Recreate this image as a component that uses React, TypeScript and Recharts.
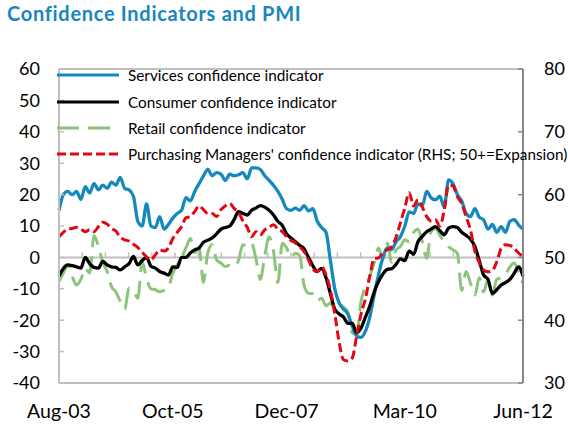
import { LineChart, Line, XAxis, YAxis, ReferenceLine } from 'recharts';

const months = [
  'Aug-03', 'Sep-03', 'Oct-03', 'Nov-03', 'Dec-03',
  'Jan-04', 'Feb-04', 'Mar-04', 'Apr-04', 'May-04', 'Jun-04', 'Jul-04', 'Aug-04', 'Sep-04', 'Oct-04', 'Nov-04', 'Dec-04',
  'Jan-05', 'Feb-05', 'Mar-05', 'Apr-05', 'May-05', 'Jun-05', 'Jul-05', 'Aug-05', 'Sep-05', 'Oct-05', 'Nov-05', 'Dec-05',
  'Jan-06', 'Feb-06', 'Mar-06', 'Apr-06', 'May-06', 'Jun-06', 'Jul-06', 'Aug-06', 'Sep-06', 'Oct-06', 'Nov-06', 'Dec-06',
  'Jan-07', 'Feb-07', 'Mar-07', 'Apr-07', 'May-07', 'Jun-07', 'Jul-07', 'Aug-07', 'Sep-07', 'Oct-07', 'Nov-07', 'Dec-07',
  'Jan-08', 'Feb-08', 'Mar-08', 'Apr-08', 'May-08', 'Jun-08', 'Jul-08', 'Aug-08', 'Sep-08', 'Oct-08', 'Nov-08', 'Dec-08',
  'Jan-09', 'Feb-09', 'Mar-09', 'Apr-09', 'May-09', 'Jun-09', 'Jul-09', 'Aug-09', 'Sep-09', 'Oct-09', 'Nov-09', 'Dec-09',
  'Jan-10', 'Feb-10', 'Mar-10', 'Apr-10', 'May-10', 'Jun-10', 'Jul-10', 'Aug-10', 'Sep-10', 'Oct-10', 'Nov-10', 'Dec-10',
  'Jan-11', 'Feb-11', 'Mar-11', 'Apr-11', 'May-11', 'Jun-11', 'Jul-11', 'Aug-11', 'Sep-11', 'Oct-11', 'Nov-11', 'Dec-11',
  'Jan-12', 'Feb-12', 'Mar-12', 'Apr-12', 'May-12', 'Jun-12',
];

const services = [
  15, 20, 21, 20, 21, 18.5, 22.5, 20.5, 23.5, 21.5,
  23, 22, 24, 23, 25.5, 22, 21.5, 19.5, 11.5, 10,
  17, 10, 9.5, 13, 9, 10.5, 12.5, 14, 15, 19,
  18, 21, 23.5, 26, 28, 26, 27, 26.5, 24.5, 26.5,
  26, 26.3, 27, 25, 28.5, 28.5, 28, 26, 24.5, 23,
  21, 18.5, 15.5, 15, 15.7, 15, 16.5, 14.8, 15.5, 11.5,
  9.5, 8, -1, -10, -14.5, -16.5, -18, -22, -25, -25.5,
  -23.5, -19, -12, -5.5, 0, 3, 2.5, 5, 6.6, 10,
  14.5, 14, 17, 16.5, 21, 19, 18.3, 19.5, 16, 24.7,
  23.5, 20, 18, 14, 13, 15.5, 12.8, 12, 9, 10.5,
  8, 9.8, 8, 11.5, 12, 10.3, 9,
];

const consumer = [
  -6, -3.5, -2.4, -2.6, -3, -3.4, 0, -2, -3.2, -3.4,
  -1.3, -2.4, -3, -3.2, -4, -3, -2, 0.3, -2.4, -1,
  0, -2.8, -3.4, -4.5, -5, -5.6, -3, -3.2, 0, 0,
  1.4, 2.4, 3, 4.8, 5.5, 6.2, 7.5, 9, 9.5, 10,
  12, 14.6, 14, 13.5, 15, 15.7, 16.5, 16, 15, 13.5,
  11.5, 10.2, 7.5, 6.2, 5, 3.8, 2.7, 0, -2.7, -4.5,
  -3.5, -6.5, -11.5, -16.5, -18, -19, -21, -21, -24, -22.5,
  -19, -15.5, -11, -7.7, -5.3, -3.8, -3.6, -2.2, -0.5, -1,
  2, 1, 5, 6.7, 8.2, 9, 9.8, 8.5, 7.2, 9.3,
  9.8, 9.5, 8, 7, 5.8, 3.5, -1, -5.6, -7, -11.5,
  -10.3, -8.8, -8, -7, -5, -3, -6,
];

const retail = [
  -7.7, -5, -2.5, -6, -8.8, -7, -3.4, -5, 7, 3.5,
  -1.5, -4.5, -9.3, -11, -14, -16.5, -9.8, -10.5, -13, -1.5,
  -6.6, -10, -10.3, -10.9, -10.5, -9.5, -5, -2.4, 0, 3,
  6, 1.5, 3, -8, 1.5, 4, -0.8, -1.8, -2.9, -2.5,
  -2.9, -1, 4, 3.4, 4.5, -0.5, -7, 0.5, 6.5, 2,
  -8, 4.5, 3, 0, 1.3, 0.5, -9, -11.4, -11.6, -13.8,
  -13, -15.4, -14.5, -16.5, -15, -15.8, -17.5, -24, -24.5, -14,
  -9.3, -6, -1.8, 3, -0.5, 4.5, -1.5, 2.4, 3.5, 5.6,
  5, 8, 9, 5, -0.3, 8.2, 9.3, 7, 5, 3.4,
  2.4, 1.3, -10.5, -4.5, -8.2, -12, -6.5, -11, -7, -12,
  -7, -6.5, -5.5, -3, -1.8, -5, -8.2,
];

// PMI, right hand scale
const pmi = [
  53.3, 54, 54.5, 54.6, 54.8, 54.5, 54.1, 54.4, 54.1, 54.9,
  55.6, 55.3, 54.6, 54.2, 53.2, 52.8, 52.6, 52.1, 51.6, 50.8,
  50.1, 49.6, 50.4, 51.2, 51, 51.5, 53, 54, 54.9, 56.3,
  56.5, 57.3, 58.2, 57.6, 57, 57, 56.5, 57.6, 58.2, 58.6,
  57.8, 57.2, 55.8, 54.8, 53.3, 54.1, 53.6, 54.4, 54.8, 55.2,
  54.5, 54.1, 53.3, 52.7, 52.3, 51.7, 50.9, 49.6, 48.1, 47.7,
  48.5, 47.2, 44.8, 41, 36.5, 33.7, 33.5, 34, 37.5, 41,
  43.4, 47, 49.8, 49.9, 50.8, 51.2, 51.7, 53.2, 55.5, 57.9,
  60.3, 58.2, 59.2, 58, 56.5, 55.8, 56, 55, 57.5, 61.5,
  61.4, 59.7, 58.6, 56.5, 54.4, 51, 49.2, 48, 47.7, 47.9,
  49.3, 51.4, 52, 51.9, 51.4, 50.7, 50.1,
];

const xTickLabels = ['Aug-03', 'Oct-05', 'Dec-07', 'Mar-10', 'Jun-12'];
const leftTicks = [-40, -30, -20, -10, 0, 10, 20, 30, 40, 50, 60];
const rightTicks = [30, 40, 50, 60, 70, 80];

const data = months.map((month, i) => ({
  month,
  services: services[i],
  consumer: consumer[i],
  retail: retail[i],
  pmi: pmi[i],
}));

const FONT = 'Lato, "Open Sans", sans-serif';
const GRID = '#bfbfbf';

const series = [
  { key: 'services', label: 'Services confidence indicator', color: '#1589bd', dash: undefined, axis: 'left' },
  { key: 'consumer', label: 'Consumer confidence indicator', color: '#000000', dash: undefined, axis: 'left' },
  { key: 'retail', label: 'Retail confidence indicator', color: '#8cc47a', dash: '22 9', axis: 'left' },
  { key: 'pmi', label: "Purchasing Managers' confidence indicator (RHS; 50+=Expansion)", color: '#e30613', dash: '9 4', axis: 'right' },
];
const drawOrder = ['retail', 'services', 'consumer', 'pmi'];

// the zero line carries the category axis tick marks (pointing up)
function ZeroLine(props: any) {
  const { x1, x2, y1 } = props;
  const marks = [];
  const n = 20;
  for (let k = 1; k < n; k++) {
    const x = x1 + (k * (x2 - x1)) / n;
    marks.push(<line key={k} x1={x} x2={x} y1={y1} y2={y1 - 5} stroke={GRID} strokeWidth={1.5} />);
  }
  return (
    <g>
      <line x1={x1} y1={y1} x2={x2} y2={y1} stroke={GRID} strokeWidth={2} />
      {marks}
    </g>
  );
}

function LegendBox() {
  return (
    <div style={{ position: 'absolute', left: 56, top: 62, fontFamily: FONT, fontSize: 15.3, color: '#000' }}>
      {series.map((s) => (
        <div key={s.key} style={{ display: 'flex', alignItems: 'center', height: 26.4, whiteSpace: 'nowrap' }}>
          <svg width={64} height={8} style={{ marginRight: 8 }}>
            <line x1={1} y1={4} x2={63} y2={4} stroke={s.color} strokeWidth={3} strokeDasharray={s.dash} />
          </svg>
          <span>{s.label}</span>
        </div>
      ))}
    </div>
  );
}

export default function App() {
  const tickStyle = { fontSize: 18, fill: '#000', fontFamily: FONT };
  return (
    <div style={{ position: 'absolute', left: 0, top: 0, width: 568, height: 432, background: '#fff' }}>
      <div
        style={{
          position: 'absolute', left: 7, top: 3, fontFamily: FONT, fontWeight: 700,
          fontSize: 20, lineHeight: '20px', letterSpacing: 0.7, color: '#1786bf', whiteSpace: 'nowrap',
        }}
      >
        Confidence Indicators and PMI
      </div>
      <LineChart width={568} height={432} data={data} margin={{ top: 69, right: 0, bottom: 19, left: 9 }}>
        <XAxis
          dataKey="month"
          ticks={xTickLabels}
          interval={0}
          tickLine={false}
          tickSize={0}
          tickMargin={21}
          axisLine={{ stroke: GRID, strokeWidth: 2 }}
          tick={{ ...tickStyle, fontSize: 19.5 }}
          height={30}
        />
        <YAxis
          yAxisId="left"
          domain={[-40, 60]}
          ticks={leftTicks}
          interval={0}
          width={50}
          tickSize={-5}
          tickMargin={24}
          axisLine={{ stroke: GRID, strokeWidth: 2 }}
          tickLine={{ stroke: GRID, strokeWidth: 1.5 }}
          tick={tickStyle}
        />
        <YAxis
          yAxisId="right"
          orientation="right"
          domain={[30, 80]}
          ticks={rightTicks}
          interval={0}
          width={45}
          tickSize={-5}
          tickMargin={26}
          axisLine={{ stroke: '#868686', strokeWidth: 2 }}
          tickLine={{ stroke: '#868686', strokeWidth: 1.5 }}
          tick={{ ...tickStyle, textAnchor: 'start' }}
        />
        <ReferenceLine yAxisId="left" y={60} stroke={GRID} strokeWidth={2} />
        <ReferenceLine yAxisId="left" y={0} shape={ZeroLine} />
        {drawOrder.map((k) => {
          const s = series.find((d) => d.key === k)!;
          return (
            <Line
              key={s.key}
              yAxisId={s.axis}
              dataKey={s.key}
              name={s.label}
              type="monotone"
              stroke={s.color}
              strokeWidth={s.dash ? 3 : 3.3}
              strokeDasharray={s.dash}
              dot={false}
              activeDot={false}
              isAnimationActive={false}
            />
          );
        })}
      </LineChart>
      <LegendBox />
    </div>
  );
}
